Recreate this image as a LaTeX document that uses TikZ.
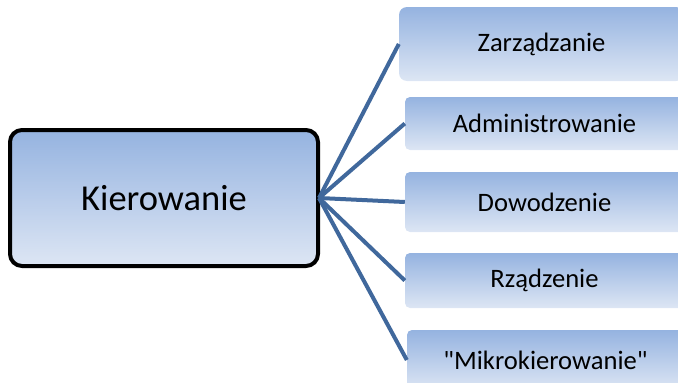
\documentclass[tikz,border=0pt]{standalone}
\usepackage{fontspec}
\setmainfont{Carlito}
\usetikzlibrary{positioning}
\definecolor{boxtop}{RGB}{149,179,224}
\definecolor{boxbot}{RGB}{221,230,244}
\definecolor{linkblue}{RGB}{64,104,156}
\tikzset{
  mainbox/.style={draw=black, line width=4pt, rounded corners=12pt,
    top color=boxtop, bottom color=boxbot, minimum width=308pt,
    minimum height=136pt, font=\fontsize{36.5}{40}\selectfont},
  subbox/.style={rounded corners=5pt, top color=boxtop, bottom color=boxbot,
    minimum width=279pt, font=\fontsize{26.6}{30}\selectfont},
  link/.style={draw=linkblue, line width=4pt}
}
\begin{document}
\begin{tikzpicture}[x=1pt, y=-1pt]
      \useasboundingbox (0,0) rectangle (678,383);
      \clip (0,0) rectangle (678,383);
      \node[mainbox] (kier) at (164,198) {Kierowanie};
      \node[subbox, minimum width=285pt, minimum height=74pt, rounded corners=8pt] (zarz) at (541.5,44) {Zarządzanie};
      \node[subbox, minimum height=53pt] (admin) at (544.5,123.5) {Administrowanie};
      \node[subbox, minimum height=60pt] (dowo) at (544.5,202) {Dowodzenie};
      \node[subbox, minimum height=55pt] (rzad) at (544.5,280.5) {Rządzenie};
      \node[subbox, minimum height=60pt, minimum width=277pt] (mikro) at (545.5,360) {\textquotedbl Mikrokierowanie\textquotedbl};
      \coordinate (hub) at ([xshift=-1pt]kier.east);
      \draw[link] (hub) -- (zarz.west);
      \draw[link] (hub) -- (admin.west);
      \draw[link] (hub) -- (dowo.west);
      \draw[link] (hub) -- (rzad.west);
      \draw[link] (hub) -- (mikro.west);
    \end{tikzpicture}
\end{document}
